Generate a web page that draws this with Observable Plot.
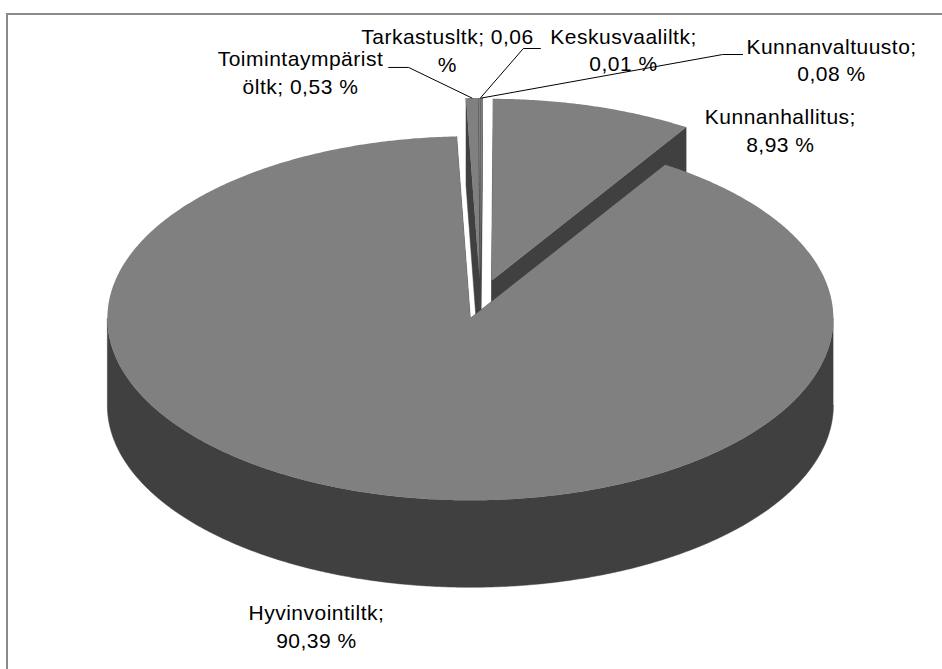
<!DOCTYPE html>
<html>
<head>
<meta charset="utf-8">
<script src="https://cdn.jsdelivr.net/npm/d3@7"></script>
<script src="https://cdn.jsdelivr.net/npm/@observablehq/plot@0.6"></script>
<style>
  html, body { margin: 0; padding: 0; background: #fff; overflow: hidden; }
  #wrap { position: relative; width: 942px; height: 669px; overflow: hidden; }
  #frame { position: absolute; left: 6px; top: 13px; width: 1000px; height: 1000px;
           border-left: 2px solid #8a8a8a; border-top: 2px solid #8a8a8a; pointer-events: none; }
  #wrap svg text { letter-spacing: 0.5px; }
</style>
</head>
<body>
<div id="wrap"></div>
<script>
// ---- data (clockwise from 12 o'clock) ----
const categories = ["Kunnanvaltuusto", "Kunnanhallitus", "Hyvinvointiltk", "Toimintaympäristöltk", "Tarkastusltk", "Keskusvaaliltk"];
const shares = [0.08, 8.93, 90.39, 0.53, 0.06, 0.01];
const labelTexts = [
  "Kunnanvaltuusto;\n0,08 %",
  "Kunnanhallitus;\n8,93 %",
  "Hyvinvointiltk;\n90,39 %",
  "Toimintaympärist\nöltk; 0,53 %",
  "Tarkastusltk; 0,06\n%",
  "Keskusvaaliltk;\n0,01 %"
];

// ---- layout (unit-ellipse coordinates) ----
const explode = 0.107;   // slice explosion, fraction of radius
const depth = 0.478;     // 3D thickness in y units
const labelPos = [[0.967, 1.324], [0.826, 0.934], [-0.452, -1.791], [-0.496, 1.255], [-0.091, 1.374], [0.394, 1.379]];
const leaderElbows = [
  [[0.722, 1.346], [0.667, 1.346]],
  null,
  null,
  [[-0.253, 1.275], [-0.198, 1.275]],
  null,
  [[0.165, 1.379], [0.118, 1.379]]
];

// ---- geometry from d3.pie ----
const arcs = d3.pie().sort(null)(shares);
const walls = [], tops = [], leaders = [];
arcs.forEach((a, i) => {
  const m = (a.startAngle + a.endAngle) / 2;
  const ox = explode * Math.sin(m), oy = explode * Math.cos(m);
  const pt = (t, z = 0) => ({x: ox + Math.sin(t), y: oy + Math.cos(t) - z * depth});
  const sampled = (t0, t1) => {
    const n = Math.max(1, Math.ceil((t1 - t0) / (Math.PI / 360)));
    return d3.range(n + 1).map(k => t0 + (t1 - t0) * k / n);
  };
  // top face
  const tid = "top" + i;
  tops.push({id: tid, x: ox, y: oy});
  sampled(a.startAngle, a.endAngle).forEach(t => tops.push({id: tid, ...pt(t)}));
  // radial faces
  [a.startAngle, a.endAngle].forEach((t, j) => {
    const id = `rad${i}_${j}`;
    walls.push({id, x: ox, y: oy}, {id, ...pt(t)}, {id, ...pt(t, 1)}, {id, x: ox, y: oy - depth});
  });
  // front outer wall
  const lo = Math.max(a.startAngle, Math.PI / 2), hi = Math.min(a.endAngle, 3 * Math.PI / 2);
  if (hi > lo) {
    const id = "wall" + i;
    const ts = sampled(lo, hi);
    ts.forEach(t => walls.push({id, ...pt(t)}));
    ts.slice().reverse().forEach(t => walls.push({id, ...pt(t, 1)}));
  }
  // leader line
  if (leaderElbows[i]) {
    const id = "lead" + i;
    leaderElbows[i].forEach(([x, y]) => leaders.push({id, x, y}));
    leaders.push({id, ...pt(m)});
  }
});

const labels = categories.map((c, i) => ({name: c, text: labelTexts[i], x: labelPos[i][0], y: labelPos[i][1]}));

const chart = Plot.plot({
  width: 942,
  height: 669,
  margin: 0,
  x: {domain: [-1, 1], range: [117, 843], axis: null},
  y: {domain: [-1, 1], range: [481, 117], axis: null},
  marks: [
    Plot.line(walls, {x: "x", y: "y", z: "id", fill: "#404040", stroke: "#404040", strokeWidth: 0.5}),
    Plot.line(tops, {x: "x", y: "y", z: "id", fill: "#808080", stroke: "none"}),
    Plot.line(leaders, {x: "x", y: "y", z: "id", stroke: "#000", strokeWidth: 1}),
    Plot.text(labels, {x: "x", y: "y", text: "text", fontSize: 21, lineHeight: 1.33,
      fontFamily: "Liberation Sans", fill: "#000"})
  ]
});
const wrap = document.getElementById("wrap");
wrap.appendChild(chart);
const frame = document.createElement("div");
frame.id = "frame";
wrap.appendChild(frame);
</script>
</body>
</html>
